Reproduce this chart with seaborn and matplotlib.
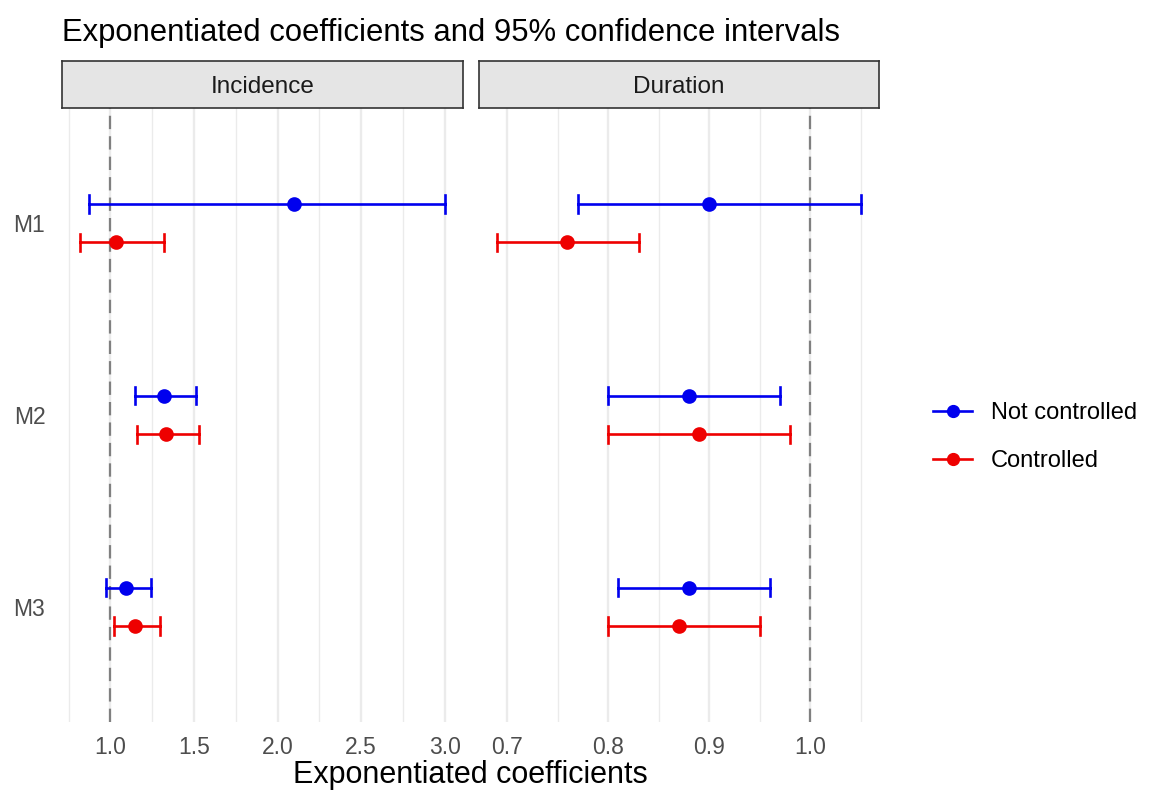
import numpy as np
import pandas as pd
import matplotlib
matplotlib.use("Agg")
import matplotlib.pyplot as plt
from matplotlib.lines import Line2D
import seaborn as sns

# ---- data ----
models = ["M1", "M2", "M3"]
groups = ["Not controlled", "Controlled"]
panels = ["Incidence", "Duration"]

# Incidence
inc_nc_est = [2.10, 1.32, 1.095]
inc_nc_lo = [0.87, 1.15, 0.975]
inc_nc_hi = [3.00, 1.51, 1.245]
inc_c_est = [1.035, 1.33, 1.15]
inc_c_lo = [0.82, 1.16, 1.02]
inc_c_hi = [1.32, 1.53, 1.30]

# Duration
dur_nc_est = [0.90, 0.88, 0.88]
dur_nc_lo = [0.77, 0.80, 0.81]
dur_nc_hi = [1.05, 0.97, 0.96]
dur_c_est = [0.759, 0.89, 0.87]
dur_c_lo = [0.69, 0.80, 0.80]
dur_c_hi = [0.83, 0.98, 0.95]

inc_ticks = [1.0, 1.5, 2.0, 2.5, 3.0]
inc_minor = [0.75, 1.25, 1.75, 2.25, 2.75]
dur_ticks = [0.7, 0.8, 0.9, 1.0]
dur_minor = [0.75, 0.85, 0.95, 1.05]

colors = {"Not controlled": "#0000ee", "Controlled": "#ee0000"}

# long table: lower / estimate / upper per row, median gives the point
rows = []
series = {
    ("Incidence", "Not controlled"): (inc_nc_lo, inc_nc_est, inc_nc_hi),
    ("Incidence", "Controlled"): (inc_c_lo, inc_c_est, inc_c_hi),
    ("Duration", "Not controlled"): (dur_nc_lo, dur_nc_est, dur_nc_hi),
    ("Duration", "Controlled"): (dur_c_lo, dur_c_est, dur_c_hi),
}
for (panel, grp), (lo, est, hi) in series.items():
    for m, a, b, c in zip(models, lo, est, hi):
        for v in (a, b, c):
            rows.append({"panel": panel, "group": grp, "model": m, "value": v})
df = pd.DataFrame(rows)

plt.rcParams["font.family"] = ["Liberation Sans", "DejaVu Sans"]

W, H = 1149, 793
fig = plt.figure(figsize=(W / 100, H / 100), dpi=100)

def fx(px):
    return px / W

def fy(py):
    return 1 - py / H

boxes = {"Incidence": (62, 463), "Duration": (479, 879)}
limits = {"Incidence": (0.711, 3.109), "Duration": (0.672, 1.068)}
ticks = {"Incidence": (inc_ticks, inc_minor), "Duration": (dur_ticks, dur_minor)}
top, strip_top, bottom = 108, 61, 722

for i, panel in enumerate(panels):
    x0, x1 = boxes[panel]
    ax = fig.add_axes([fx(x0), fy(bottom), fx(x1 - x0), (bottom - top) / H])
    sub = df[df["panel"] == panel]

    major, minor = ticks[panel]
    ax.set_xticks(major)
    ax.set_xticks(minor, minor=True)
    ax.grid(which="major", color="#ebebeb", linewidth=1.7)
    ax.grid(which="minor", axis="x", color="#ebebeb", linewidth=1.0)
    ax.set_axisbelow(True)
    ax.axvline(1.0, color="#808080", linestyle=(0, (6, 3.2)), linewidth=1.6, zorder=1)

    sns.pointplot(
        data=sub, x="value", y="model", hue="group",
        order=models, hue_order=groups, palette=colors,
        estimator="median", errorbar=lambda v: (v.min(), v.max()),
        dodge=0.2, linestyle="none", markers="o", markersize=8.5,
        capsize=0.09, err_kws={"linewidth": 1.9},
        legend=False, ax=ax,
    )

    ax.set_xlim(*limits[panel])
    ax.set_ylim(2.6, -0.6)
    ax.set_xlabel("")
    ax.set_ylabel("")
    for s in ax.spines.values():
        s.set_visible(False)
    ax.tick_params(which="both", length=0, labelsize=16.5, labelcolor="#4d4d4d")
    ax.tick_params(axis="x", pad=10)
    ax.tick_params(axis="y", pad=12)
    ax.xaxis.set_major_formatter(matplotlib.ticker.FormatStrFormatter("%.1f"))
    if i > 0:
        ax.tick_params(labelleft=False)

    # facet strip
    sax = fig.add_axes([fx(x0), fy(top), fx(x1 - x0), (top - strip_top) / H])
    sax.set_facecolor("#e5e5e5")
    sax.set_xticks([])
    sax.set_yticks([])
    for s in sax.spines.values():
        s.set_color("#333333")
        s.set_linewidth(1.2)
    sax.text(0.5, 0.45, panel, ha="center", va="center", fontsize=17.5, color="#1a1a1a",
             transform=sax.transAxes)

fig.text(fx(62), fy(33), "Exponentiated coefficients and 95% confidence intervals",
         ha="left", va="center", fontsize=22.3, color="black")
fig.text(fx(470), fy(775), "Exponentiated coefficients", ha="center", va="center",
         fontsize=22, color="black")

handles = [
    Line2D([0], [0], color=colors[g], marker="o", markersize=8.5, linewidth=1.9)
    for g in groups
]
fig.legend(handles, groups, loc="center left", bbox_to_anchor=(fx(912), fy(437)),
           frameon=False, fontsize=17, handlelength=1.65, handletextpad=0.8,
           labelspacing=1.1)

fig.savefig("out.png", dpi=100)
